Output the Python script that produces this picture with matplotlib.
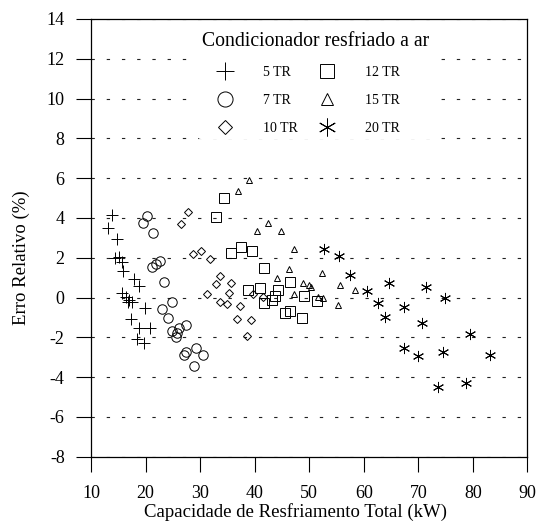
import matplotlib
matplotlib.use("Agg")
import matplotlib.pyplot as plt

plt.rcParams['font.family'] = ['Liberation Serif', 'DejaVu Serif']
plt.rcParams['axes.unicode_minus'] = False

# ---- data ----
x_5tr = [13.8, 13.2, 14.7, 14.4, 15.2, 15.6, 15.9, 17.8, 18.8, 15.6, 16.4, 16.8, 17.5, 17.0,
         19.9, 17.3, 18.8, 20.8, 18.4, 19.7]
y_5tr = [4.15, 3.5, 2.94, 1.97, 2.02, 1.8, 1.33, 0.93, 0.58, 0.24, 0.01, -0.21, -0.21, -0.1,
         -0.51, -1.08, -1.52, -1.55, -2.1, -2.27]

x_7tr = [20.3, 19.5, 21.4, 21.1, 22.0, 22.7, 23.4, 24.8, 23.0, 24.2, 24.8, 25.6, 25.8, 26.2,
         27.5, 27.4, 27.1, 29.3, 30.6, 28.9]
y_7tr = [4.1, 3.76, 3.23, 1.52, 1.68, 1.85, 0.76, -0.21, -0.59, -1.05, -1.68, -1.97, -1.8, -1.55,
         -1.38, -2.72, -2.89, -2.55, -2.89, -3.44]

x_10tr = [26.5, 27.7, 28.7, 30.2, 31.8, 33.6, 32.9, 35.6, 31.3, 35.3, 33.7, 34.9, 37.3, 39.7,
          41.5, 36.7, 39.3, 38.6]
y_10tr = [3.69, 4.28, 2.19, 2.34, 1.93, 1.08, 0.66, 0.71, 0.18, 0.24, -0.24, -0.34, -0.41, 0.18,
          0.04, -1.1, -1.13, -1.92]

x_12tr = [34.4, 32.9, 35.7, 37.5, 39.5, 41.7, 46.4, 41.0, 38.7, 44.2, 43.8, 43.1, 41.7, 49.1,
          51.5, 45.6, 46.4, 48.7]
y_12tr = [4.98, 4.03, 2.24, 2.52, 2.34, 1.47, 0.8, 0.46, 0.38, 0.38, 0.09, -0.13, -0.29, 0.09,
          -0.16, -0.76, -0.66, -1.01]

x_15tr = [38.9, 37.0, 42.5, 40.4, 44.9, 47.3, 46.3, 44.1, 47.3, 48.9, 49.9, 50.3, 51.6, 52.6,
          52.4, 55.6, 58.4, 55.3]
y_15tr = [5.9, 5.35, 3.76, 3.36, 3.36, 2.44, 1.43, 0.96, 0.16, 0.74, 0.63, 0.51, 0.04, -0.01,
          1.22, 0.63, 0.38, -0.38]

x_20tr = [52.8, 55.5, 57.5, 60.6, 64.7, 62.6, 63.9, 67.3, 67.3, 71.5, 74.9, 70.7, 79.4, 69.9,
          74.6, 83.1, 73.6, 78.8]
y_20tr = [2.42, 2.1, 1.13, 0.34, 0.71, -0.29, -0.96, -0.46, -2.55, 0.51, -0.04, -1.27, -1.85, -2.94,
          -2.72, -2.89, -4.48, -4.28]

labels = ['5 TR', '7 TR', '10 TR', '12 TR', '15 TR', '20 TR']
xticks = [10, 20, 30, 40, 50, 60, 70, 80, 90]
yticks = [-8, -6, -4, -2, 0, 2, 4, 6, 8, 10, 12, 14]

# ---- figure ----
fig = plt.figure(figsize=(5.37, 5.23), dpi=100)
ax = fig.add_axes([0.1695, 0.1268, 0.8125, 0.8369])

for y in yticks:
    ax.axhline(y, color='#222222', lw=0.8, linestyle=(0, (3, 10.7)), zorder=1)

common = dict(linestyle='none', mfc='none', mec='black', mew=0.7, color='black', zorder=3)
ax.plot(x_5tr, y_5tr, marker='+', ms=8, label=labels[0], **common)
ax.plot(x_7tr, y_7tr, marker='o', ms=6.8, label=labels[1], **common)
ax.plot(x_10tr, y_10tr, marker='D', ms=4.3, label=labels[2], **common)
ax.plot(x_12tr, y_12tr, marker='s', ms=6.5, label=labels[3], **common)
ax.plot(x_15tr, y_15tr, marker='^', ms=5, label=labels[4], **common)
ax.plot(x_20tr, y_20tr, marker=(6, 2, 0), ms=8, label=labels[5], **common)

ax.set_xlim(10, 90)
ax.set_ylim(-8, 14)
ax.set_xticks(xticks)
ax.set_yticks(yticks)
ax.tick_params(axis='both', direction='out', length=11, width=0.8, labelsize=13)
ax.tick_params(axis='x', pad=9.5)
ax.tick_params(axis='y', pad=8)
for s in ax.spines.values():
    s.set_linewidth(0.9)

ax.set_xlabel('Capacidade de Resfriamento Total (kW)', fontsize=13.5)
ax.set_ylabel('Erro Relativo (%)', fontsize=13.5)
ax.xaxis.set_label_coords(0.468, -0.106)
ax.yaxis.set_label_coords(-0.139, 0.455)

leg = ax.legend(ncol=2, title='Condicionador resfriado a ar', title_fontsize=14.2,
                fontsize=10, markerscale=1.6, loc='upper left',
                bbox_to_anchor=(0.229, 0.995), frameon=True, facecolor='white',
                edgecolor='none', framealpha=1, handlelength=3.3, handletextpad=1.08,
                columnspacing=0.45, labelspacing=1.08, borderpad=0.3)
leg._legend_box.align = 'left'

fig.savefig('out.png', dpi=100)
